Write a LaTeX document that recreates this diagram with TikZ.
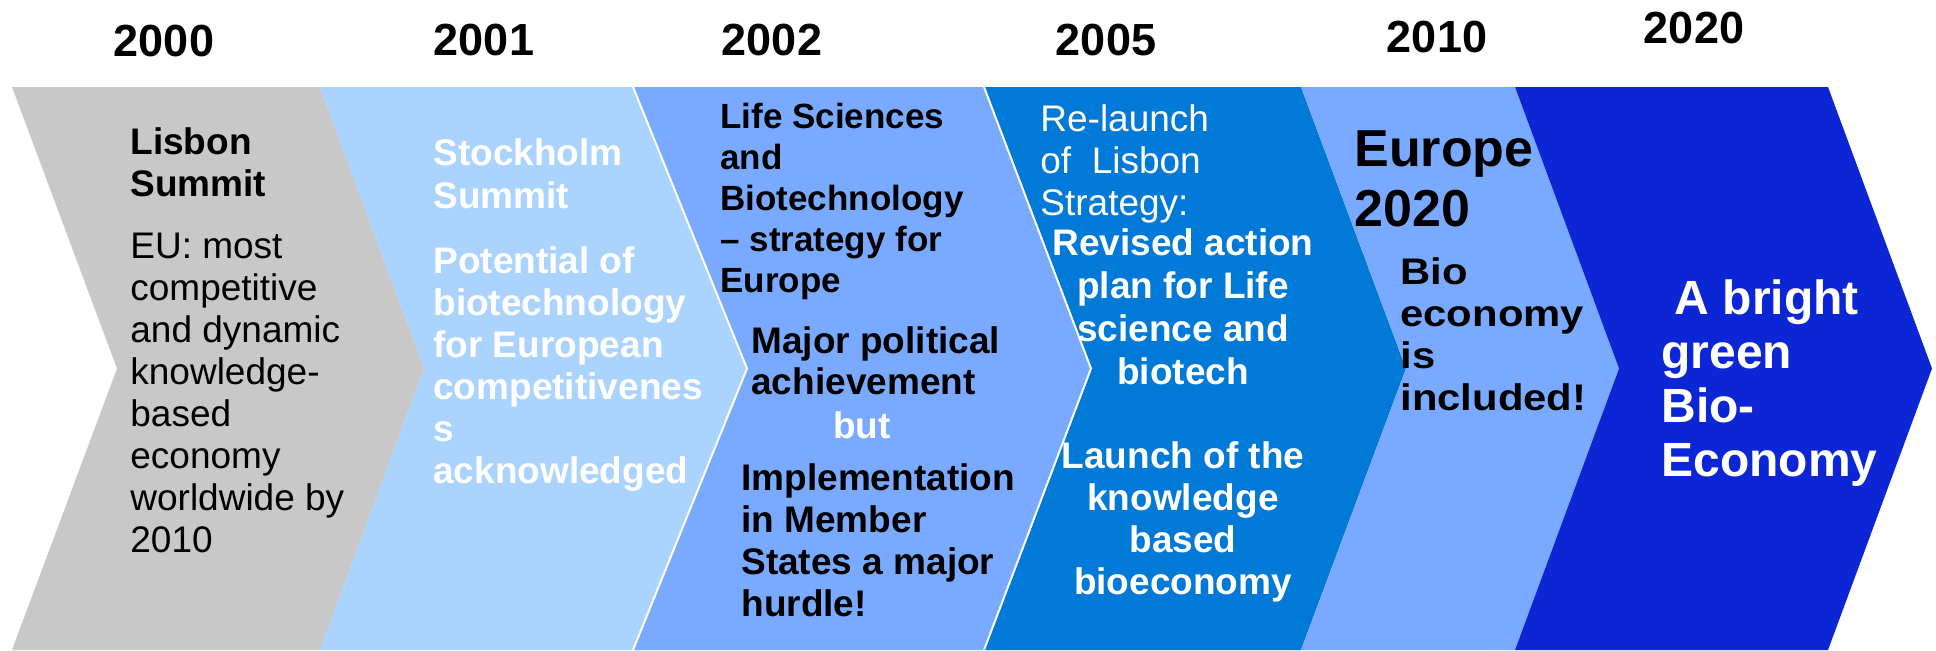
\documentclass[tikz,border=0pt]{standalone}
\usepackage{fontspec}
\setmainfont{Liberation Sans}
\definecolor{cgray}{RGB}{200,200,200}
\definecolor{clight}{RGB}{170,212,255}
\definecolor{cmid}{RGB}{122,170,255}
\definecolor{cstrong}{RGB}{0,122,214}
\definecolor{cdeep}{RGB}{12,38,214}
\tikzset{
  year/.style={font=\fontsize{22.5}{27}\selectfont\bfseries},
  txt/.style={inner sep=0pt, anchor=north west, align=left, font=\fontsize{18.5}{21}\selectfont},
  ctxt/.style={inner sep=0pt, anchor=north, align=center, font=\fontsize{18.5}{21.5}\selectfont\bfseries, text=white}
}
\begin{document}
\begin{tikzpicture}[x=0.5pt,y=-0.5pt]
\useasboundingbox (0,0) rectangle (1936,650);
% chevrons
\fill[cgray] (12,87)--(320,87)--(424,368.5)--(320,650)--(12,650)--(117,368.5)--cycle;
\fill[clight] (320,87)--(633,87)--(747,368.5)--(633,650)--(320,650)--(424,368.5)--cycle;
\fill[cmid] (633,87)--(984,87)--(1091,368.5)--(984,650)--(633,650)--(747,368.5)--cycle;
\fill[cstrong] (984,87)--(1301,87)--(1406,368.5)--(1301,650)--(984,650)--(1091,368.5)--cycle;
\fill[cmid] (1301,87)--(1515,87)--(1619,368.5)--(1515,650)--(1301,650)--(1406,368.5)--cycle;
\fill[cdeep] (1515,87)--(1828,87)--(1932,368.5)--(1828,650)--(1515,650)--(1619,368.5)--cycle;
\draw[white,line width=1pt] (633,87)--(747,368.5)--(633,650);
\draw[white,line width=1pt] (984,87)--(1091,368.5)--(984,650);
% years
\node[year] (y2000) at (164,41) {2000};
\node[year] (y2001) at (484,40) {2001};
\node[year] (y2002) at (772,40) {2002};
\node[year] (y2005) at (1106,40) {2005};
\node[year] (y2010) at (1437,37) {2010};
\node[year] (y2020) at (1694,28) {2020};
% 2000
\node[txt,font=\fontsize{18.5}{21}\selectfont\bfseries] (lisbon) at (130,127) {Lisbon\\Summit};
\node[txt] (eu) at (130,233) {EU: most\\competitive\\and dynamic\\knowledge-\\based\\economy\\worldwide by\\2010};
% 2001
\node[txt,font=\fontsize{18.5}{21.5}\selectfont\bfseries,text=white] (stockholm) at (433,138) {Stockholm\\Summit};
\node[txt,font=\fontsize{18.5}{21}\selectfont\bfseries,text=white] (potential) at (433,246) {Potential of\\biotechnology\\for European\\competitivenes\\s\\acknowledged};
% 2002
\node[txt,font=\fontsize{17.5}{20.5}\selectfont\bfseries] (lifesci) at (720,103) {Life Sciences\\and\\Biotechnology\\-- strategy for\\Europe};
\node[txt,font=\fontsize{18.5}{20.5}\selectfont\bfseries] (major) at (751,326) {Major political\\achievement};
\node[inner sep=0pt,anchor=base,font=\fontsize{18.5}{21}\selectfont\bfseries,text=white] (but) at (862,438) {but};
\node[txt,font=\fontsize{18.5}{21}\selectfont\bfseries] (impl) at (741,463) {Implementation\\in Member\\States a major\\hurdle!};
% 2005
\node[txt,text=white] (relaunch) at (1040,104) {Re-launch\\of~ Lisbon\\Strategy:};
\node[ctxt] (revised) at (1183,228) {Revised action\\plan for Life\\science and\\biotech};
\node[ctxt,font=\fontsize{18.5}{21}\selectfont\bfseries] (launch) at (1183,441) {Launch of the\\knowledge\\based\\bioeconomy};
% 2010
\node[txt,font=\fontsize{26}{30}\selectfont\bfseries] (europe) at (1354,130) {Europe\\2020};
\node[txt,font=\fontsize{18.5}{21}\selectfont\bfseries] (bio) at (1400,255) {\scalebox{1.13}[1]{\begin{tabular}{@{}l@{}}Bio\\economy\\is\\included!\end{tabular}}};
% 2020
\node[txt,font=\fontsize{24}{27}\selectfont\bfseries,text=white] (bright) at (1661,279) {~A bright\\green\\Bio-\\Economy};
\end{tikzpicture}
\end{document}
